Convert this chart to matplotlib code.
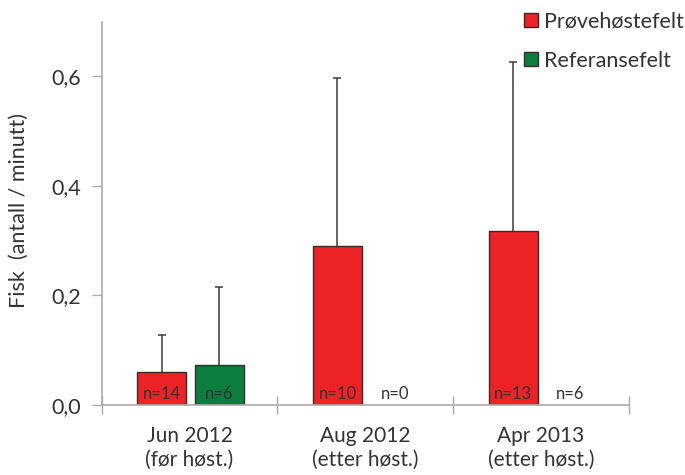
import numpy as np
import matplotlib
matplotlib.use("Agg")
import matplotlib.pyplot as plt
from matplotlib.patches import Patch

plt.rcParams['font.family'] = ['Lato', 'DejaVu Sans']

# Data
periods = ["Jun 2012\n(før høst.)", "Aug 2012\n(etter høst.)", "Apr 2013\n(etter høst.)"]
series_names = ["Prøvehøstefelt", "Referansefelt"]
harvest_mean = [0.059, 0.290, 0.318]
harvest_err = [0.068, 0.308, 0.308]
harvest_n = [14, 10, 13]
reference_mean = [0.073, 0.0, 0.0]
reference_err = [0.143, 0.0, 0.0]
reference_n = [6, 0, 6]
y_ticks = [0.0, 0.2, 0.4, 0.6]
y_label = "Fisk  (antall / minutt)"

red = "#EC2227"
green = "#0B7D3E"
text_col = "#333333"
spine_col = "#ababab"

fig = plt.figure(figsize=(6.85, 4.75), dpi=100)
ax = fig.add_axes([0.1485, 0.148, 0.7693, 0.8063])

x = np.arange(len(periods))
width = 0.279
offset = 0.158

def draw_series(pos, means, errs, ns, color):
    for xi, m, e, n in zip(pos, means, errs, ns):
        if m > 0:
            ax.bar(xi, m, width=width, color=color, edgecolor="#3a2a2a", linewidth=1.0, zorder=2)
            eb = ax.errorbar(xi, m, yerr=[[0], [e]], fmt="none", ecolor="#3b3b3b",
                             elinewidth=1.1, capsize=2.8, capthick=1.1, zorder=3)
            # only the upper cap is shown
            eb.lines[1][0].set_visible(False)
        ax.text(xi, 0.01, f"n={n}", ha="center", va="baseline",
                fontsize=12, color=text_col, zorder=4)

draw_series(x - offset, harvest_mean, harvest_err, harvest_n, red)
draw_series(x + offset + 0.01, reference_mean, reference_err, reference_n, green)

ax.set_xlim(-0.5, len(periods) - 0.5)
ax.set_ylim(0, 0.7)

ax.set_yticks(y_ticks)
ax.set_yticklabels([f"{v:.1f}".replace(".", ",") for v in y_ticks])

# Major x ticks mark the group boundaries, minor ticks carry the labels
ax.set_xticks(np.arange(-0.5, len(periods) + 0.5, 1.0))
ax.set_xticklabels([])
ax.set_xticks(x, minor=True)
ax.set_xticklabels(periods, minor=True, linespacing=1.3)

ax.tick_params(axis="y", direction="out", length=7, width=1.0, color=spine_col,
               labelsize=15.5, labelcolor=text_col, pad=8)
ax.tick_params(axis="x", which="major", direction="inout", length=13, width=1.0, color=spine_col)
ax.tick_params(axis="x", which="minor", length=0, labelsize=15, labelcolor=text_col, pad=15)

for side in ["top", "right"]:
    ax.spines[side].set_visible(False)
for side in ["left", "bottom"]:
    ax.spines[side].set_color(spine_col)
    ax.spines[side].set_linewidth(1.2)

fig.text(0.028, 0.557, y_label, rotation=90, ha="center", va="center",
         fontsize=15.5, color=text_col)

handles = [Patch(facecolor=red, edgecolor="#3a2a2a", linewidth=1.0),
           Patch(facecolor=green, edgecolor="#3a2a2a", linewidth=1.0)]
leg = fig.legend(handles, series_names, loc="upper left", bbox_to_anchor=(0.753, 0.994),
                 frameon=False, fontsize=15.5, handlelength=0.62, handleheight=0.62,
                 handletextpad=0.3, labelspacing=0.9, borderaxespad=0)
for t in leg.get_texts():
    t.set_color(text_col)

fig.savefig("out.png", dpi=100)
